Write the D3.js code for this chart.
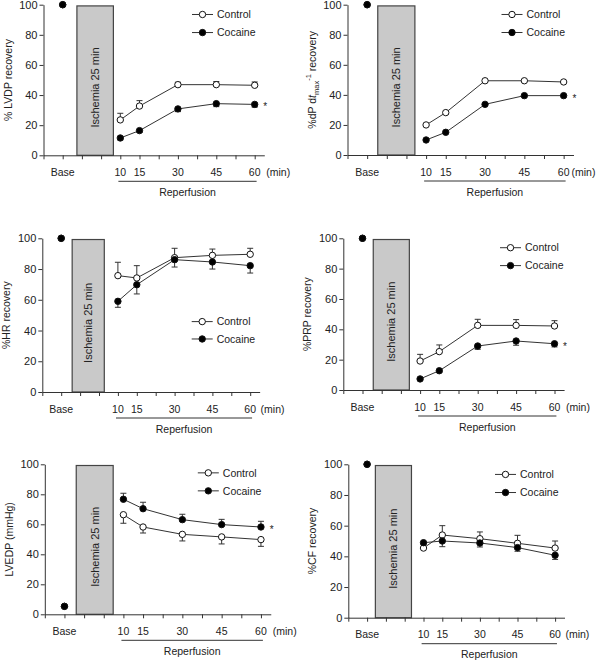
<!DOCTYPE html>
<html><head><meta charset="utf-8">
<script src="https://cdn.jsdelivr.net/npm/d3@7"></script>
<style>
body{margin:0;background:#fff;}
text{font-family:"Liberation Sans",Arial,Helvetica,sans-serif;fill:#222;}
</style></head>
<body>
<script>
// ---- data ----
const categories = ["Base", "10", "15", "30", "45", "60"];
const categorySlots = [1, 4, 5, 7, 9, 11];   // position on the reperfusion axis (tick slot)
const yTicks = [0, 20, 40, 60, 80, 100];
const seriesNames = ["Control", "Cocaine"];

const lvdpControl    = [100, 23.5, 32.7, 46.9, 46.9, 46.5];
const lvdpControlErr = [0, 4.4, 3.6, 1.6, 2.1, 2.2];
const lvdpCocaine    = [100, 11.5, 16.4, 30.8, 34.3, 33.8];
const lvdpCocaineErr = [0, 1.2, 1.2, 1.8, 2.0, 1.8];

const dpdtControl    = [100, 20.0, 28.2, 49.4, 49.4, 48.6];
const dpdtControlErr = [0, 0, 0, 0, 0, 0];
const dpdtCocaine    = [100, 10.0, 15.1, 33.7, 39.5, 39.5];
const dpdtCocaineErr = [0, 0, 0, 0, 0, 0];

const hrControl    = [100, 75.7, 74.2, 87.4, 88.9, 89.6];
const hrControlErr = [0, 8.7, 8.0, 6.1, 4.1, 3.9];
const hrCocaine    = [100, 59.0, 69.8, 86.1, 84.6, 82.2];
const hrCocaineErr = [0, 3.9, 6.0, 4.8, 4.6, 4.8];

const prpControl    = [100, 19.1, 25.3, 42.6, 42.6, 42.2];
const prpControlErr = [0, 4.4, 4.4, 4.0, 3.8, 3.5];
const prpCocaine    = [100, 7.3, 12.7, 29.0, 32.3, 30.5];
const prpCocaineErr = [0, 0.8, 0.9, 2.2, 2.8, 2.1];

const lvedpControl    = [5.3, 66.4, 58.2, 53.3, 51.6, 49.8];
const lvedpControlErr = [0, 5.7, 4.0, 4.4, 4.7, 4.5];
const lvedpCocaine    = [5.3, 76.7, 70.4, 63.1, 59.8, 58.2];
const lvedpCocaineErr = [0, 4.0, 4.3, 3.6, 3.5, 3.8];

const cfControl    = [100, 45.4, 53.9, 51.5, 48.5, 45.4];
const cfControlErr = [0, 0.5, 6.1, 4.4, 5.2, 4.6];
const cfCocaine    = [100, 48.9, 50.0, 48.7, 45.7, 40.7];
const cfCocaineErr = [0, 0.8, 3.7, 2.6, 2.4, 2.7];

// ---- layout ----
const panels = [
  {title:"% LVDP recovery", x0:43.5, sp:19.2, y0:155.3, y100:4.7, box:[1.74,3.64], leg:[93.5,81.5], legDx:148.5, star:true, ctrlDir:1, minX:11.6,
   c:lvdpControl, ce:lvdpControlErr, k:lvdpCocaine, ke:lvdpCocaineErr},
  {title:"dpdt", x0:347.5, sp:19.65, y0:155, y100:4.7, box:[1.54,3.43], leg:[93.5,81.5], legDx:154, star:true, ctrlDir:1, minX:11.4,
   c:dpdtControl, ce:dpdtControlErr, k:dpdtCocaine, ke:dpdtCocaineErr},
  {title:"%HR recovery", x0:42.3, sp:18.9, y0:392, y100:238.3, box:[1.58,3.28], leg:[45.8,34.5], legDx:149.4, star:false, ctrlDir:1, minX:11.55,
   c:hrControl, ce:hrControlErr, k:hrCocaine, ke:hrCocaineErr},
  {title:"%PRP recovery", x0:343.3, sp:19.2, y0:390, y100:238.3, box:[1.56,3.44], leg:[93.8,82], legDx:156.7, star:true, ctrlDir:1, minX:11.6,
   c:prpControl, ce:prpControlErr, k:prpCocaine, ke:prpCocaineErr},
  {title:"LVEDP (mmHg)", x0:44.8, sp:19.65, y0:614.3, y100:464.3, box:[1.6,3.48], leg:[94.3,82.3], legDx:153, star:true, ctrlDir:-1, minX:11.6,
   c:lvedpControl, ce:lvedpControlErr, k:lvedpCocaine, ke:lvedpCocaineErr},
  {title:"%CF recovery", x0:348.3, sp:18.8, y0:617.7, y100:464.3, box:[1.44,3.36], leg:[93.4,81.6], legDx:146.7, star:false, ctrlDir:1, minX:11.55,
   c:cfControl, ce:cfControlErr, k:cfCocaine, ke:cfCocaineErr}
];

const INK = "#333";
const svg = d3.select("body").append("svg").attr("width",596).attr("height",660);

panels.forEach(p => {
  const g = svg.append("g");
  const x = d3.scaleLinear().domain([0, 11.5]).range([p.x0, p.x0 + 11.5*p.sp]);
  const y = d3.scaleLinear().domain([0, 100]).range([p.y0, p.y100]);
  const slot = d3.scaleOrdinal().domain(categories).range(categorySlots);

  // ischemia box
  g.append("rect").attr("x", x(p.box[0])).attr("y", y(99.2))
    .attr("width", x(p.box[1]) - x(p.box[0])).attr("height", y(0) - y(99.2))
    .attr("fill", "#c9c9c9").attr("stroke", "#444").attr("stroke-width", 1.2);
  const bx = (x(p.box[0]) + x(p.box[1]))/2, by = y(45);
  g.append("text").attr("transform", `translate(${bx+4},${by}) rotate(-90)`)
    .attr("text-anchor","middle").attr("font-size","11px").text("Ischemia 25 min");

  // axes
  const ya = g.append("g").attr("transform", `translate(${p.x0},0)`)
    .call(d3.axisLeft(y).tickValues(yTicks).tickSize(4).tickSizeOuter(0).tickPadding(2));
  ya.selectAll("text").attr("font-size","11px").style("font-family","'Liberation Sans',Arial,sans-serif").attr("fill","#222");
  const xa = g.append("g").attr("transform", `translate(0,${p.y0})`)
    .call(d3.axisBottom(x).tickValues(d3.range(0,12)).tickSize(4).tickSizeOuter(0).tickFormat(""));
  [ya, xa].forEach(a => { a.select(".domain").attr("stroke", INK); a.selectAll("line").attr("stroke", INK); });

  // category labels
  g.selectAll(".cat").data(categories).join("text")
    .attr("x", d => x(slot(d))).attr("y", p.y0 + 17).attr("dy","0.35em")
    .attr("text-anchor","middle").attr("font-size","10.5px").text(d => d);
  g.append("text").attr("x", x(p.minX)).attr("y", p.y0 + 17).attr("dy","0.35em")
    .attr("font-size","10.5px").text("(min)");
  g.append("line").attr("x1", x(3.9)).attr("x2", x(11.1)).attr("y1", p.y0 + 26).attr("y2", p.y0 + 26)
    .attr("stroke", INK).attr("stroke-width", 1);
  g.append("text").attr("x", (x(3.9)+x(11.1))/2).attr("y", p.y0 + 37).attr("dy","0.35em")
    .attr("text-anchor","middle").attr("font-size","10.5px").text("Reperfusion");

  // y title
  const tt = g.append("text").attr("transform", `translate(${p.x0 - 32},${(p.y0+p.y100)/2}) rotate(-90)`)
    .attr("text-anchor","middle").attr("font-size","10.5px");
  if (p.title === "dpdt") {
    tt.append("tspan").text("%dP d");
    tt.append("tspan").attr("font-style","italic").text("t");
    tt.append("tspan").attr("font-size","7.5px").attr("dy","3").text("max");
    tt.append("tspan").attr("font-size","7.5px").attr("dy","-8").text("-1");
    tt.append("tspan").attr("dy","5").text(" recovery");
  } else tt.text(p.title);

  // series
  const series = [
    {name:"Control", v:p.c, e:p.ce, dir:p.ctrlDir, fill:"#fff"},
    {name:"Cocaine", v:p.k, e:p.ke, dir:-p.ctrlDir, fill:"#000"}
  ];
  const pts = s => categories.map((c,i) => ({c, i, v:s.v[i], e:s.e[i]}));
  const line = d3.line().x(d => x(slot(d.c))).y(d => y(d.v));

  series.forEach(s => {
    const d = pts(s).filter(d => d.i > 0 && d.e > 0);
    const eg = g.append("g").attr("stroke", INK).attr("stroke-width", 1);
    eg.selectAll("line.v").data(d).join("line")
      .attr("x1", d => x(slot(d.c))).attr("x2", d => x(slot(d.c)))
      .attr("y1", d => y(d.v)).attr("y2", d => y(d.v + s.dir*d.e));
    eg.selectAll("line.h").data(d).join("line")
      .attr("x1", d => x(slot(d.c)) - 3).attr("x2", d => x(slot(d.c)) + 3)
      .attr("y1", d => y(d.v + s.dir*d.e)).attr("y2", d => y(d.v + s.dir*d.e));
  });
  series.forEach(s => {
    g.append("path").datum(pts(s).filter(d => d.i > 0)).attr("d", line)
      .attr("fill","none").attr("stroke", INK).attr("stroke-width", 1);
  });
  series.forEach(s => {
    g.selectAll(null).data(pts(s)).join("circle")
      .attr("cx", d => x(slot(d.c))).attr("cy", d => y(d.v)).attr("r", 3.2)
      .attr("fill", s.fill).attr("stroke", "#111").attr("stroke-width", 1);
  });

  if (p.star) {
    g.append("text").attr("x", x(11.55)).attr("y", y(p.k[5]) + 6)
      .attr("text-anchor","middle").attr("font-size","10px").attr("fill","#555").text("*");
  }

  // legend
  seriesNames.forEach((n, i) => {
    const lx = p.x0 + p.legDx, ly = y(p.leg[i]);
    g.append("line").attr("x1", lx).attr("x2", lx + 21).attr("y1", ly).attr("y2", ly)
      .attr("stroke", INK).attr("stroke-width", 1);
    g.append("circle").attr("cx", lx + 10.5).attr("cy", ly).attr("r", 3.2)
      .attr("fill", i === 0 ? "#fff" : "#000").attr("stroke", "#111");
    g.append("text").attr("x", lx + 25).attr("y", ly).attr("dy","0.35em")
      .attr("font-size","10.5px").text(n);
  });
});
</script>
</body></html>
